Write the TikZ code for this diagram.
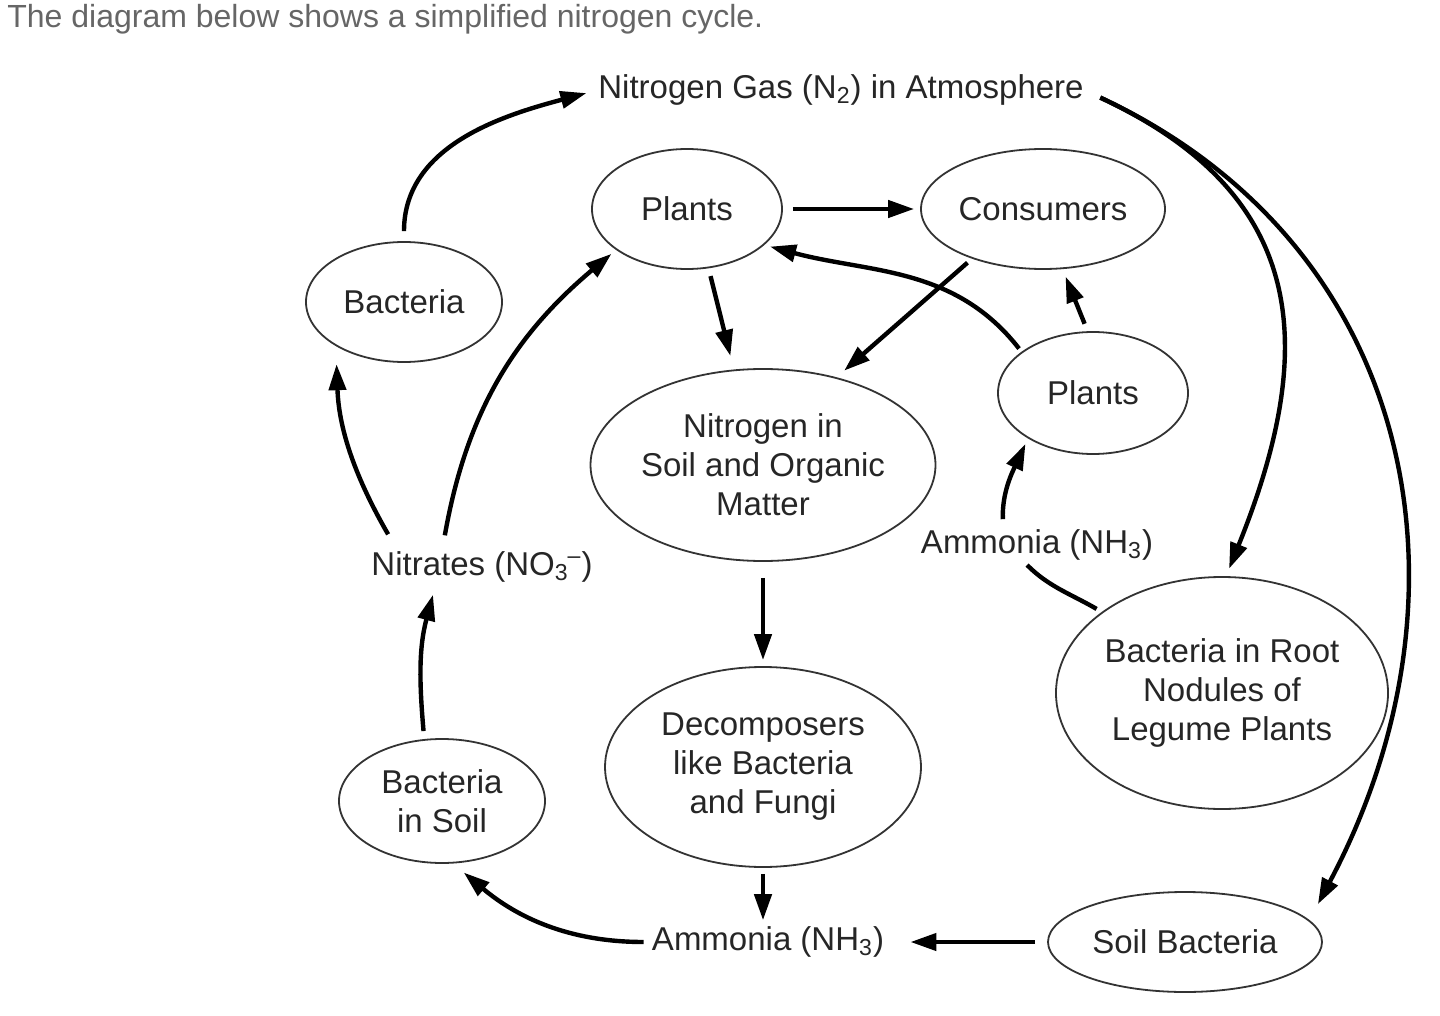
\documentclass[tikz,border=0pt]{standalone}
\usepackage{fontspec}
\setmainfont{Liberation Sans}
\usetikzlibrary{shapes.geometric,arrows.meta}
\begin{document}
\begin{tikzpicture}[x=0.5pt,y=-0.5pt,
  every node/.style={font=\fontsize{16.5}{19.5}\selectfont, text=black!85},
  oval/.style={ellipse, draw=black!80, line width=0.9pt, inner sep=0pt, align=center},
  arr/.style={line width=2.2pt, -{Triangle[length=13pt,width=8.5pt]}},
  ln/.style={line width=2.2pt},
  lbl/.style={inner sep=0pt}]
\useasboundingbox[fill=white] (0,0) rectangle (1440,1016);
\node[anchor=west, text=black!60, lbl, font=\fontsize{16}{19}\selectfont] (title) at (7,19) {The diagram below shows a simplified nitrogen cycle.};
\node[lbl] (n2) at (841,90) {Nitrogen Gas (N\textsubscript{2}) in Atmosphere};
\node[oval, minimum width=95pt, minimum height=60pt] (plantsT) at (687,209) {Plants};
\node[oval, minimum width=122pt, minimum height=60pt] (consumers) at (1043,209) {Consumers};
\node[oval, minimum width=98pt, minimum height=60pt] (bacteria) at (404,302) {Bacteria};
\node[oval, minimum width=95pt, minimum height=61pt] (plantsR) at (1093,393) {Plants};
\node[oval, minimum width=162pt, minimum height=96pt] (nsoil) at (763,465) {Nitrogen in\\Soil and Organic\\Matter};
\node[inner sep=5pt] (nitrates) at (482,567) {Nitrates (NO\textsubscript{3}\kern-0.5pt\textsuperscript{--})};
\node[lbl] (ammR) at (1037,545) {Ammonia (NH\textsubscript{3})};
\node[oval, minimum width=162pt, minimum height=116pt] (root) at (1222,693) {Bacteria in Root\\Nodules of\\Legume Plants};
\node[oval, minimum width=158pt, minimum height=100pt] (decomp) at (763,767) {Decomposers\\like Bacteria\\and Fungi};
\node[oval, minimum width=103pt, minimum height=62pt] (bsoil) at (442,801) {Bacteria\\in Soil};
\node[lbl] (ammB) at (768,942) {Ammonia (NH\textsubscript{3})};
\node[oval, minimum width=137pt, minimum height=50pt] (soilb) at (1185,942) {Soil Bacteria};

% connectors
\draw[arr, shorten <=5pt, shorten >=6pt] (bacteria.north) to[out=90, in=195] (n2.west);
\draw[arr, shorten <=9pt, shorten >=4pt] (n2.east) to[out=-25, in=68, looseness=1.25] (root.88);
\draw[arr, shorten <=9pt, shorten >=9pt] (n2.east) to[out=-25, in=62, looseness=1.1] (soilb.10);
\draw[arr, shorten <=5pt, shorten >=3pt] (plantsT.east) -- (consumers.west);
\draw[arr, shorten <=4pt, shorten >=7pt] (plantsT.-70) -- (nsoil.107);
\draw[arr, shorten <=3pt, shorten >=5pt] (consumers.-145) -- (nsoil.50);
\draw[arr, shorten <=2pt, shorten >=3pt] (plantsR.150) to[out=128, in=-15] (plantsT.-25);
\draw[arr, shorten <=4pt, shorten >=4pt] (plantsR.95) -- (consumers.-72);
\draw[arr, shorten <=8pt, shorten >=3pt] (nsoil.south) -- (decomp.north);
\draw[arr, shorten <=3pt, shorten >=3pt] (decomp.south) -- (decomp.south |- ammB.north);
\draw[arr, shorten <=6pt, shorten >=13pt] (soilb.west) -- (ammB.east);
\draw[arr, shorten <=4pt, shorten >=7pt] (ammB.west) to[out=180, in=-40] (bsoil.-80);
\draw[arr, shorten <=4pt, shorten >=1pt] (bsoil.106) to[out=95, in=-105] (nitrates.-152);
\draw[arr, shorten <=4pt, shorten >=9pt] (nitrates.164) to[out=120, in=-88] (bacteria.-147);
\draw[arr, shorten <=3pt, shorten >=3pt] (nitrates.146) to[out=80, in=-140] (plantsT.-150);
\draw[ln, shorten <=3pt, shorten >=3pt] (root.146) to[out=150, in=-45] (ammR.-132);
\draw[arr, shorten <=5pt, shorten >=3pt] (ammR.155) to[out=92, in=-115] (plantsR.-145);
\end{tikzpicture}
\end{document}
